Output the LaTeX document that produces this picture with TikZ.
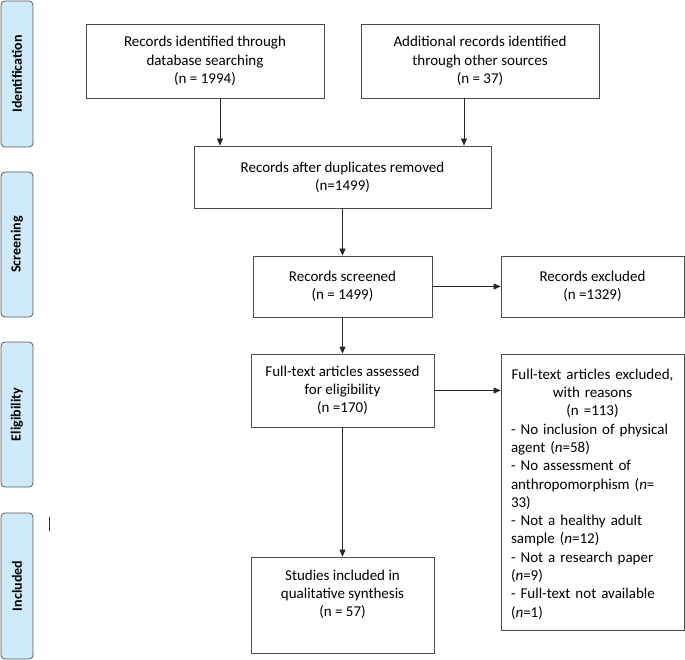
\documentclass[tikz,border=0pt]{standalone}
\usepackage{fontspec}
\setmainfont{Carlito}
\usetikzlibrary{arrows.meta, positioning}
\colorlet{boxline}{black!70}
\definecolor{phasefill}{HTML}{CFEAFB}
\colorlet{phaseline}{black!65}

\tikzset{
  flowbox/.style={draw=boxline, line width=0.8pt, align=center, inner sep=0pt,
    font=\fontsize{15}{18.3}\selectfont},
  flowtext/.style={anchor=north, inner sep=0pt, font=\fontsize{15}{18.3}\selectfont},
  phasebox/.style={draw=phaseline, fill=phasefill, line width=0.8pt, rounded corners=4pt,
    minimum height=32pt, rotate=90, font=\bfseries\fontsize{14}{16}\selectfont},
  flowarrow/.style={draw=black!85, line width=0.8pt, -{Triangle[width=6pt,length=7pt]}}
}

\begin{document}
\begin{tikzpicture}[x=1pt, y=-1pt]
  \useasboundingbox (0,0) rectangle (685,660);

  % phase labels
  \node[phasebox, minimum width=146pt] (ident) at (17,74) {Identification};
  \node[phasebox, minimum width=145pt] (screen) at (17,244.5) {Screening};
  \node[phasebox, minimum width=145pt] (elig) at (17,414.5) {Eligibility};
  \node[phasebox, minimum width=146pt] (incl) at (17,586) {Included};
  \draw[black!80, line width=0.8pt] (49,517) -- (49,531);

  % boxes
  \node[flowbox, minimum width=238pt, minimum height=74pt] (dbsearch) at (205,61)
    {Records identified through\\database searching\\(n = 1994)};
  \node[flowbox, minimum width=238pt, minimum height=74pt] (other) at (480,61)
    {Additional records identified\\through other sources\\(n = 37)};
  \node[flowbox, minimum width=297pt, minimum height=62pt] (dupl) at (342.5,177)
    {Records after duplicates removed\\(n=1499)};
  \node[flowbox, minimum width=179pt, minimum height=61pt] (screened) at (342.5,286.5)
    {Records screened\\(n = 1499)};
  \node[flowbox, minimum width=183pt, minimum height=61pt] (excluded) at (592.5,286.5)
    {Records excluded\\(n =1329)};
  \node[flowbox, minimum width=183pt, minimum height=73pt] (fulltext) at (342.5,390.5)
    {Full-text articles assessed\\for eligibility\\(n =170)};
  \node[flowbox, minimum width=183pt, minimum height=276pt] (reasons) at (592.5,492) {};
  \node[flowtext, text width=163pt] (reasonstext) at ([yshift=-15pt]reasons.north)
    {{\centering Full-text articles excluded,\\with reasons\\(n =113)\par}
     \raggedright
     - No inclusion of physical\\agent (\textit{n}=58)\\
     - No assessment of\\anthropomorphism (\textit{n}=\\33)\\
     - Not a healthy adult\\sample (\textit{n}=12)\\
     - Not a research paper\\(\textit{n}=9)\\
     - Full-text not available\\(\textit{n}=1)\par};
  \node[flowbox, minimum width=183pt, minimum height=96pt] (included) at (342.5,605) {};
  \node[flowtext, align=center] (includedtext) at ([yshift=-13pt]included.north)
    {Studies included in\\qualitative synthesis\\(n = 57)};

  % connectors
  \draw[flowarrow] ([xshift=15pt]dbsearch.south) -- ([xshift=15pt]dbsearch.south |- dupl.north);
  \draw[flowarrow] ([xshift=-16pt]other.south) -- ([xshift=-16pt]other.south |- dupl.north);
  \draw[flowarrow] (dupl) -- (screened);
  \draw[flowarrow] (screened) -- (excluded);
  \draw[flowarrow] (screened) -- (fulltext);
  \draw[flowarrow] (fulltext.east) -- (fulltext.east -| reasons.west);
  \draw[flowarrow] (fulltext) -- (included);
\end{tikzpicture}
\end{document}
